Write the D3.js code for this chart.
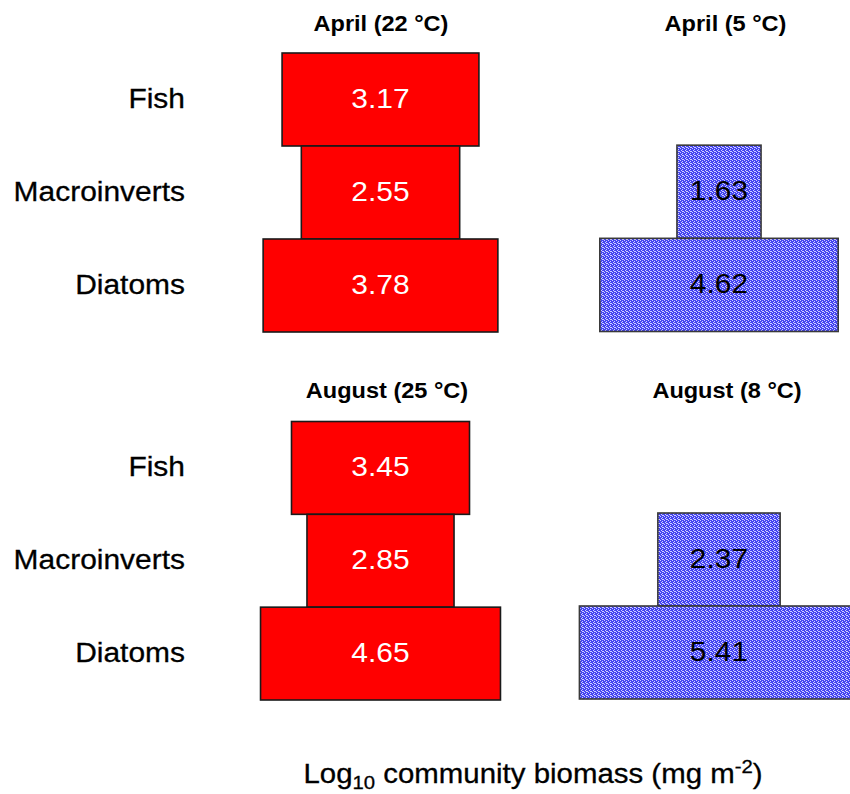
<!DOCTYPE html>
<html>
<head>
<meta charset="utf-8">
<script src="https://cdn.jsdelivr.net/npm/d3@7"></script>
<style>
  html, body { margin: 0; padding: 0; background: #fff; }
  svg { display: block; }
  text { font-family: "Liberation Sans", Arial, Helvetica, sans-serif; }
</style>
</head>
<body>
<svg id="chart" width="850" height="794"></svg>
<script>
// ---- data ----
const categories = ["Fish", "Macroinverts", "Diatoms"];
const panelTitles = ["April (22 °C)", "April (5 °C)", "August (25 °C)", "August (8 °C)"];
const april22 = [3.17, 2.55, 3.78];
const april5 = [null, 1.63, 4.62];
const august25 = [3.45, 2.85, 4.65];
const august8 = [null, 2.37, 5.41];
const axisTitle = ["Log", "10", " community biomass (mg m", "-2", ")"];

// ---- layout ----
const svg = d3.select("#chart");
const stretch = 1.07;

const defs = svg.append("defs");
const pat = defs.append("pattern")
  .attr("id", "bluedots").attr("patternUnits", "userSpaceOnUse")
  .attr("width", 4).attr("height", 4);
pat.append("rect").attr("width", 4).attr("height", 4).attr("fill", "#4444f2");
[[0,0],[2,1],[1,2],[3,3],[2,3]].forEach(([x,y]) =>
  pat.append("rect").attr("x", x).attr("y", y).attr("width", 1).attr("height", 1).attr("fill", "#d0d0ff"));

const panels = [
  { title: panelTitles[0], values: april22, cx: 380.5, band: [53, 332], titleX: 381, titleY: 31,
    scale: d3.scaleLinear().domain([0, 5]).range([0, 310.5]), fill: "#ff0000", textColor: "#ffffff", stroke: "#1a1a1a" },
  { title: panelTitles[1], values: april5, cx: 719, band: [52, 331.5], titleX: 725.5, titleY: 31,
    scale: d3.scaleLinear().domain([0, 6]).range([0, 309.6]), fill: "url(#bluedots)", textColor: "#000000", stroke: "#3a3a3a" },
  { title: panelTitles[2], values: august25, cx: 380.5, band: [421.5, 700], titleX: 387, titleY: 398,
    scale: d3.scaleLinear().domain([0, 6]).range([0, 309.6]), fill: "#ff0000", textColor: "#ffffff", stroke: "#1a1a1a" },
  { title: panelTitles[3], values: august8, cx: 719, band: [420, 699], titleX: 727, titleY: 398,
    scale: d3.scaleLinear().domain([0, 6]).range([0, 309.6]), fill: "url(#bluedots)", textColor: "#000000", stroke: "#3a3a3a" }
];

panels.forEach((p, i) => {
  const y = d3.scaleBand().domain(categories).range(p.band).padding(0);
  const g = svg.append("g");
  const rows = categories.map((c, k) => ({ cat: c, v: p.values[k] })).filter(d => d.v != null);

  g.selectAll("rect.bar").data(rows).join("rect")
    .attr("class", "bar")
    .attr("x", d => p.cx - p.scale(d.v) / 2)
    .attr("width", d => p.scale(d.v))
    .attr("y", d => y(d.cat))
    .attr("height", y.bandwidth())
    .attr("fill", p.fill)
    .attr("stroke", p.stroke)
    .attr("stroke-width", 1.6);

  g.selectAll("text.val").data(rows).join("text")
    .attr("class", "val")
    .attr("transform", d => `translate(${p.cx},${y(d.cat) + y.bandwidth() / 2}) scale(${stretch},1)`)
    .attr("dy", "0.29em")
    .attr("text-anchor", "middle")
    .attr("font-size", 28)
    .attr("fill", p.textColor)
    .text(d => d.v.toFixed(2));

  svg.append("text")
    .attr("transform", `translate(${p.titleX},${p.titleY}) scale(${stretch},1)`)
    .attr("text-anchor", "middle")
    .attr("font-size", 22)
    .attr("font-weight", "bold")
    .attr("fill", "#000")
    .text(p.title);

  if (i === 0 || i === 2) {
    svg.append("g").selectAll("text").data(categories).join("text")
      .attr("transform", d => `translate(185,${y(d) + y.bandwidth() / 2}) scale(${stretch},1)`)
      .attr("dy", "0.29em")
      .attr("text-anchor", "end")
      .attr("font-size", 28)
      .attr("fill", "#000")
      .attr("stroke", "#000")
      .attr("stroke-width", 0.3)
      .text(d => d);
  }
});

// axis title
const at = svg.append("text")
  .attr("transform", `translate(533,783) scale(${stretch},1)`)
  .attr("text-anchor", "middle")
  .attr("font-size", 27.5)
  .attr("fill", "#000")
  .attr("stroke", "#000")
  .attr("stroke-width", 0.3);
at.append("tspan").text(axisTitle[0]);
at.append("tspan").attr("font-size", 19).attr("dy", 6).text(axisTitle[1]);
at.append("tspan").attr("dy", -6).text(axisTitle[2]);
at.append("tspan").attr("font-size", 19).attr("dy", -10).text(axisTitle[3]);
at.append("tspan").attr("dy", 10).text(axisTitle[4]);
</script>
</body>
</html>
